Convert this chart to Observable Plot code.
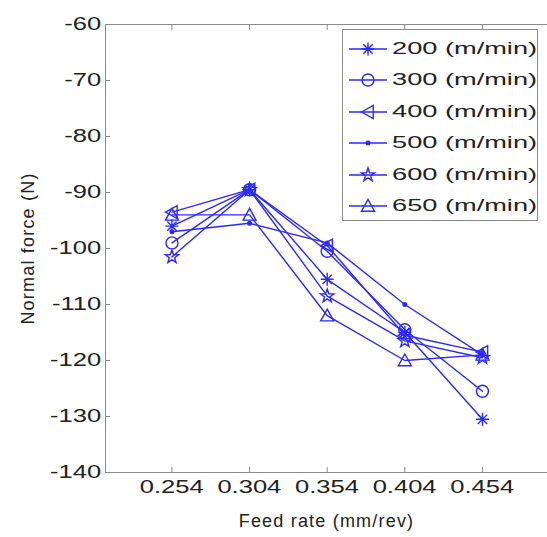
<!DOCTYPE html>
<html>
<head>
<meta charset="utf-8">
<script src="https://cdn.jsdelivr.net/npm/d3@7"></script>
<script src="https://cdn.jsdelivr.net/npm/@observablehq/plot@0.6"></script>
<style>
  html, body { margin: 0; padding: 0; background: #fff; }
  #wrap { position: relative; width: 547px; height: 537px; font-family: "Liberation Sans", Arial, sans-serif; }
  #legend { position: absolute; left: 342px; top: 29px; width: 196px; height: 192px; border: 1px solid #8a8a8a; background: #fff; box-sizing: border-box; padding-top: 3px; }
  .row { display: flex; align-items: center; height: 31.5px; }
  .row span { display: inline-block; font-size: 17px; color: #222; margin-left: 3px; transform: scaleX(1.6); transform-origin: 0 50%; white-space: nowrap; }
</style>
</head>
<body>
<div id="wrap"></div>
<script>
const feedRates = [0.254, 0.304, 0.354, 0.404, 0.454];
const tickLabels = ["0.254", "0.304", "0.354", "0.404", "0.454"];
const speeds = ["200 (m/min)", "300 (m/min)", "400 (m/min)", "500 (m/min)", "600 (m/min)", "650 (m/min)"];
const s200 = [-96, -89.5, -105.5, -115, -130.5];
const s300 = [-99, -89.5, -100.5, -114.5, -125.5];
const s400 = [-93.5, -89.5, -99.5, -115.5, -118.5];
const s500 = [-97, -95.5, -99, -110, -119];
const s600 = [-101.5, -89.5, -108.5, -116.5, -119.5];
const s650 = [-94, -94, -112, -120, -119];
const yTicks = [-140, -130, -120, -110, -100, -90, -80, -70, -60];
const xDomain = [0.2112, 0.4959];
const yDomain = [-140, -60];

const BLUE = "#2a2aff";
const seriesValues = [s200, s300, s400, s500, s600, s650];

// custom marker shapes (MATLAB-like)
const asterisk = { draw(ctx, size) { const r = Math.sqrt(size / Math.PI);
  ctx.moveTo(-r, 0); ctx.lineTo(r, 0); ctx.moveTo(0, -r); ctx.lineTo(0, r);
  const d = r * 0.72; ctx.moveTo(-d, -d); ctx.lineTo(d, d); ctx.moveTo(-d, d); ctx.lineTo(d, -d); } };
const circle = { draw(ctx, size) { const r = Math.sqrt(size / Math.PI); ctx.moveTo(r, 0); ctx.arc(0, 0, r, 0, 2 * Math.PI); } };
const triLeft = { draw(ctx, size) { const r = Math.sqrt(size / Math.PI);
  ctx.moveTo(-r, 0); ctx.lineTo(r * 0.8, -r); ctx.lineTo(r * 0.8, r); ctx.closePath(); } };
const point = { draw(ctx, size) { const r = Math.sqrt(size / Math.PI) * 0.3; ctx.moveTo(r, 0); ctx.arc(0, 0, r, 0, 2 * Math.PI); } };
const star = { draw(ctx, size) { const R = Math.sqrt(size / Math.PI), ri = R * 0.4;
  for (let i = 0; i < 10; i++) { const a = -Math.PI / 2 + i * Math.PI / 5, rr = i % 2 ? ri : R;
    const px = rr * Math.cos(a), py = rr * Math.sin(a); i ? ctx.lineTo(px, py) : ctx.moveTo(px, py); }
  ctx.closePath(); } };
const triUp = { draw(ctx, size) { const r = Math.sqrt(size / Math.PI);
  ctx.moveTo(0, -r); ctx.lineTo(r, r * 0.8); ctx.lineTo(-r, r * 0.8); ctx.closePath(); } };
const markers = [asterisk, circle, triLeft, point, star, triUp];
const fills = ["none", "none", "none", BLUE, "none", "none"];
const radii = [6.5, 6, 6.5, 6, 7, 6.5];

const data = [];
seriesValues.forEach((vals, i) => vals.forEach((v, j) => data.push({ series: speeds[i], idx: i, x: feedRates[j], y: v })));

const marks = [
  Plot.ruleY(yDomain, { stroke: "#8a8a8a", strokeWidth: 1 }),
  Plot.ruleX([xDomain[0]], { stroke: "#8a8a8a", strokeWidth: 1 }),
  Plot.axisY({ ticks: yTicks, tickFormat: d => String(d), tickSize: -5, tickPadding: 12, stroke: "#8a8a8a", fill: "#222", fontSize: 18, label: null }),
  Plot.axisX({ ticks: feedRates, tickFormat: (d, i) => tickLabels[i], tickSize: -5, tickPadding: 13, stroke: "#8a8a8a", fill: "#222", fontSize: 18, label: null }),
  Plot.axisY({ ticks: [], label: "Normal force (N)", labelAnchor: "center", labelArrow: "none", labelOffset: 84, fill: "#222" }),
  Plot.axisX({ ticks: [], label: "Feed rate (mm/rev)", labelAnchor: "center", labelArrow: "none", labelOffset: 54, fill: "#222" }),
  Plot.axisX({ anchor: "top", ticks: feedRates, tickFormat: () => "", tickSize: -5, stroke: "#8a8a8a", label: null }),
  Plot.line(data, { x: "x", y: "y", z: "series", stroke: BLUE, strokeWidth: 1.4 })
];
markers.forEach((m, i) => {
  marks.push(Plot.dot(data.filter(d => d.idx === i), { x: "x", y: "y", symbol: m, r: radii[i], stroke: BLUE, fill: fills[i], strokeWidth: 1.4 }));
});

const chart = Plot.plot({
  width: 547, height: 537,
  marginLeft: 105, marginRight: 0, marginTop: 24, marginBottom: 65,
  style: { fontFamily: "Liberation Sans, Arial, sans-serif", fontSize: "18px", background: "#fff", overflow: "visible" },
  x: { domain: xDomain },
  y: { domain: yDomain },
  marks
});
const wrap = document.getElementById("wrap");
wrap.appendChild(chart);

// widen tick-label glyphs horizontally to match reference proportions
const yLabelSet = new Set(yTicks.map(String));
const xLabelSet = new Set(tickLabels);
chart.querySelectorAll("text").forEach(t => {
  const s = t.textContent.trim();
  let mode = null;
  if (yLabelSet.has(s)) mode = "end"; else if (xLabelSet.has(s)) mode = "middle";
  else if (s === "Feed rate (mm/rev)" || s === "Normal force (N)") { t.style.letterSpacing = "1.2px"; return; }
  if (!mode) return;
  const b = t.getBBox();
  const ctm = t.getCTM();
  const ax = (mode === "end" ? b.x + b.width : b.x + b.width / 2) * ctm.a + ctm.e;
  const g = document.createElementNS("http://www.w3.org/2000/svg", "g");
  g.setAttribute("transform", `translate(${ax},0) scale(1.42,1) translate(${-ax},0)`);
  t.parentNode.insertBefore(g, t);
  g.appendChild(t);
});

// legend
const legend = document.createElement("div");
legend.id = "legend";
speeds.forEach((name, i) => {
  const row = document.createElement("div");
  row.className = "row";
  const svg = d3.create("svg").attr("width", 46).attr("height", 24);
  svg.append("line").attr("x1", 6).attr("x2", 44).attr("y1", 12).attr("y2", 12).attr("stroke", BLUE).attr("stroke-width", 1.4);
  const p = d3.path(); markers[i].draw(p, Math.PI * radii[i] * radii[i]);
  svg.append("path").attr("d", p.toString()).attr("transform", "translate(25,12)")
    .attr("stroke", BLUE).attr("fill", fills[i]).attr("stroke-width", 1.4);
  row.appendChild(svg.node());
  const t = document.createElement("span"); t.textContent = name; row.appendChild(t);
  legend.appendChild(row);
});
wrap.appendChild(legend);
</script>
</body>
</html>
